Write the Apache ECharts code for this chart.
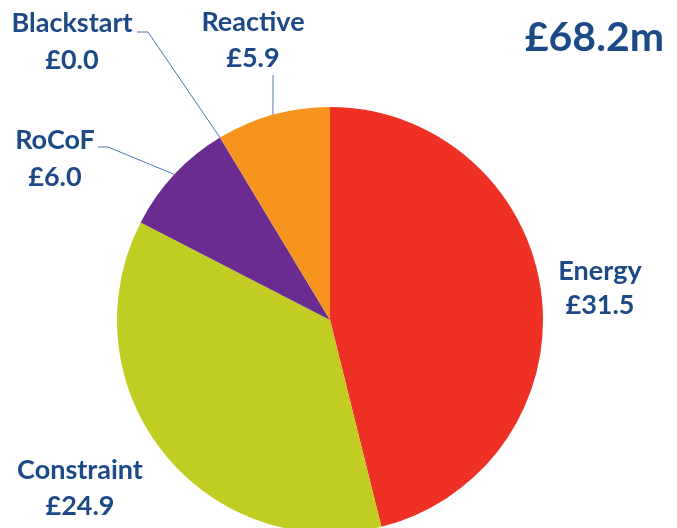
<!DOCTYPE html>
<html>
<head>
<meta charset="utf-8">
<script src="https://cdn.jsdelivr.net/npm/echarts@6/dist/echarts.min.js"></script>
<style>html,body{margin:0;padding:0;background:#fff}#c{width:677px;height:528px}</style>
</head>
<body>
<div id="c"></div>
<script>
const categories = ['Energy', 'Constraint', 'RoCoF', 'Blackstart', 'Reactive'];
const values = [31.5, 24.9, 6.0, 0.0, 5.9];
const totalLabel = '£68.2m';

const colors = ['#EE3124', '#C2CD23', '#6A2C91', '#F7941D', '#F7941D'];
const textColor = '#1B4A86';
const lineColor = '#4A78AE';

// label placement (style only)
const labelPos = {
  Energy:     { x: 600, y: 288, lh: 34, line: null },
  Constraint: { x: 80,  y: 488, lh: 36, line: null },
  RoCoF:      { x: 55,  y: 159, lh: 37, line: [[108, 147], [98, 147]] },
  Blackstart: { x: 72,  y: 42,  lh: 37, line: [[148, 32], [137, 32]] },
  Reactive:   { x: 253, y: 40,  lh: 36, line: [[273, 95], [273, 75]] }
};

const cx = 330, cy = 320, R = 213;
const total = values.reduce((a, b) => a + b, 0);

const chart = echarts.init(document.getElementById('c'));
chart.setOption({
  animation: false,
  title: {
    text: totalLabel,
    right: 8,
    top: 12,
    textStyle: { fontFamily: 'Lato', fontWeight: 'bold', fontSize: 41, color: textColor }
  },
  series: [{
    type: 'pie',
    center: [cx, cy],
    radius: R,
    startAngle: 90,
    clockwise: true,
    color: colors,
    avoidLabelOverlap: false,
    label: {
      show: true,
      position: 'outside',
      formatter: p => p.name + '\n£' + Number(p.value).toFixed(1),
      fontFamily: 'Lato',
      fontWeight: 'bold',
      fontSize: 27,
      lineHeight: 36,
      color: textColor,
      align: 'center'
    },
    labelLine: { show: true, length: 10, length2: 10, lineStyle: { color: lineColor, width: 1 } },
    labelLayout: function (params) {
      const name = categories[params.dataIndex];
      const lp = labelPos[name];
      let acc = 0;
      for (let i = 0; i < params.dataIndex; i++) acc += values[i];
      const mid = (acc + values[params.dataIndex] / 2) / total * Math.PI * 2;
      const sx = cx + R * Math.sin(mid), sy = cy - R * Math.cos(mid);
      const out = { x: lp.x, y: lp.y, align: 'center', verticalAlign: 'middle' };
      if (lp.line) out.labelLinePoints = [[sx, sy], lp.line[0], lp.line[1]];
      return out;
    },
    data: categories.map((n, i) => ({
      name: n,
      value: values[i],
      label: { lineHeight: labelPos[n].lh },
      labelLine: { show: !!labelPos[n].line }
    }))
  }]
});
</script>
</body>
</html>
